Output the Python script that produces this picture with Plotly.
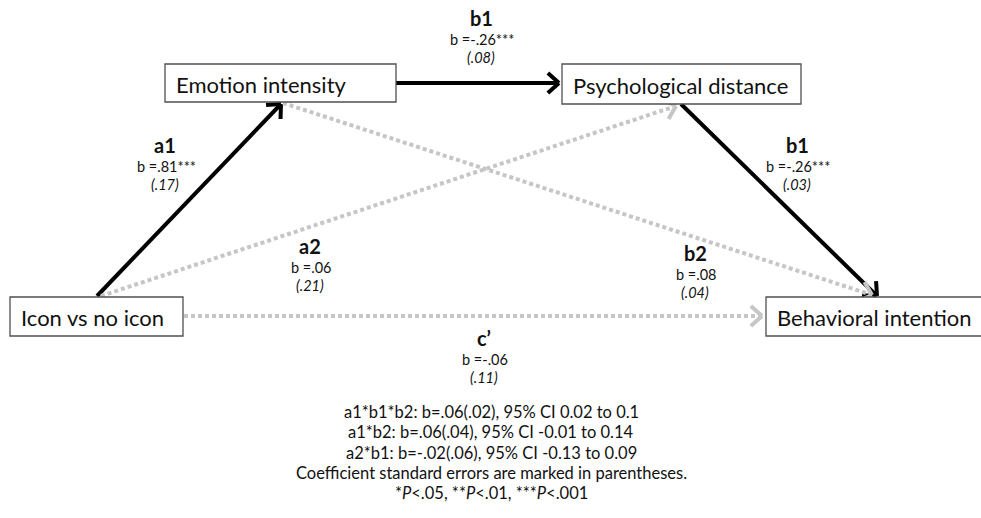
import math
import plotly.graph_objects as go

# ---------------- data ----------------
nodes = ["Icon vs no icon", "Emotion intensity", "Psychological distance", "Behavioral intention"]
path_names = ["a1", "b1", "b1", "a2", "b2", "c’"]
path_b = ["b =.81***", "b =-.26***", "b =-.26***", "b =.06", "b =.08", "b =-.06"]
path_se = ["(.17)", "(.08)", "(.03)", "(.21)", "(.04)", "(.11)"]
path_sig = [True, True, True, False, False, False]
footer_lines = [
    "a1*b1*b2: b=.06(.02), 95% CI 0.02 to 0.1",
    "a1*b2: b=.06(.04), 95% CI -0.01 to 0.14",
    "a2*b1: b=-.02(.06), 95% CI -0.13 to 0.09",
    "Coefficient standard errors are marked in parentheses.",
    "*<i>P</i><.05, **<i>P</i><.01, ***<i>P</i><.001",
]

# ---------------- layout (pixel space) ----------------
W, H = 981, 518
FONT = "Lato"
box_pos = {  # x0, y0, x1, y1
    "Icon vs no icon": (10, 297, 183, 336),
    "Emotion intensity": (165, 64, 396, 102),
    "Psychological distance": (562, 64, 801, 104),
    "Behavioral intention": (766, 297, 985, 336),
}
edge_pts = [  # start, end
    ((97, 296), (281, 104)),
    ((396, 83), (559, 83)),
    ((681, 104), (877, 296)),
    ((101, 296), (676, 106)),
    ((283, 103), (872, 295)),
    ((184, 316), (762, 316)),
]
label_pos = [(165, 145), (481, 18), (797, 145), (310, 246), (695, 253), (484, 338)]
footer_y0, footer_dy = 412, 20.3

BLACK = "#000000"
GRAY = "#c6c6c6"

fig = go.Figure()
shapes = []
annotations = []

# boxes
for name in nodes:
    x0, y0, x1, y1 = box_pos[name]
    shapes.append(dict(type="rect", x0=x0, y0=y0, x1=x1, y1=y1, xref="x", yref="y",
                       line=dict(color="#505050", width=1.3), fillcolor="white", layer="above"))
    annotations.append(dict(x=x0 + 9, y=(y0 + y1) / 2 + 1, xref="x", yref="y", text=name,
                            showarrow=False, xanchor="left", yanchor="middle",
                            font=dict(family=FONT, size=22, color="#111111")))

# edges
for i, ((sx, sy), (ex, ey)) in enumerate(edge_pts):
    sig = path_sig[i]
    col = BLACK if sig else GRAY
    fig.add_trace(go.Scatter(
        x=[sx, ex], y=[sy, ey], mode="lines", hoverinfo="skip", showlegend=False,
        line=dict(color=col, width=4, dash="solid" if sig else "4px,3px")))
    # chevron head
    dx, dy = ex - sx, ey - sy
    L = math.hypot(dx, dy)
    ux, uy = dx / L, dy / L
    arm, ang = 15, math.radians(42)
    hx, hy = [], []
    for s in (1, -1):
        c, sn = math.cos(s * ang), math.sin(s * ang)
        rx = ux * c - uy * sn
        ry = ux * sn + uy * c
        hx += [ex - arm * rx, ex]
        hy += [ey - arm * ry, ey]
        if s == 1:
            hx.append(None); hy.append(None)
    fig.add_trace(go.Scatter(x=hx, y=hy, mode="lines", hoverinfo="skip", showlegend=False,
                             line=dict(color=col, width=4)))

# edge labels
for i, (lx, ly) in enumerate(label_pos):
    annotations.append(dict(x=lx, y=ly, xref="x", yref="y", text="<b>" + path_names[i] + "</b>",
                            showarrow=False, xanchor="center", yanchor="middle",
                            font=dict(family=FONT, size=20, color="#111111")))
    annotations.append(dict(x=lx + 1, y=ly + 21, xref="x", yref="y", text=path_b[i],
                            showarrow=False, xanchor="center", yanchor="middle",
                            font=dict(family=FONT, size=14.5, color="#111111")))
    annotations.append(dict(x=lx, y=ly + 39, xref="x", yref="y", text="<i>" + path_se[i] + "</i>",
                            showarrow=False, xanchor="center", yanchor="middle",
                            font=dict(family=FONT, size=14.5, color="#111111")))

# footer
for k, line in enumerate(footer_lines):
    annotations.append(dict(x=491, y=footer_y0 + k * footer_dy, xref="x", yref="y", text=line,
                            showarrow=False, xanchor="center", yanchor="middle",
                            font=dict(family=FONT, size=16.5, color="#111111")))

fig.update_layout(
    width=W, height=H, margin=dict(l=0, r=0, t=0, b=0),
    paper_bgcolor="white", plot_bgcolor="white",
    xaxis=dict(range=[0, W], visible=False, fixedrange=True),
    yaxis=dict(range=[H, 0], visible=False, fixedrange=True),
    shapes=shapes, annotations=annotations, showlegend=False,
)
fig.write_html("out.html", config={"displayModeBar": False},
               post_script="document.body.style.margin='0';document.body.style.overflow='hidden';")
